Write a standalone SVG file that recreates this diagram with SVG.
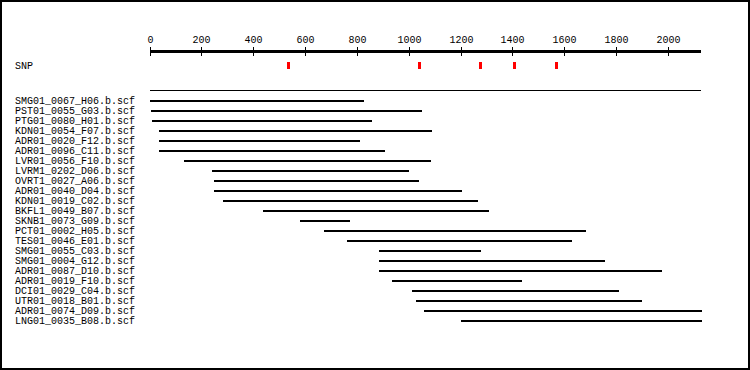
<svg xmlns="http://www.w3.org/2000/svg" width="750" height="370" viewBox="0 0 750 370">
<style>
text{font-family:"Liberation Mono","DejaVu Sans Mono",monospace;font-size:10px;fill:#000}
.tl{text-anchor:middle}
.bar{fill:#000}
.snp{fill:#f00}
</style>
<rect x="1" y="1" width="748" height="368" fill="#fff" stroke="#000" stroke-width="2"/>
<g id="axis">
<rect x="150" y="50" width="551" height="3" fill="#000"/>
<g fill="#000">
<rect x="150" y="47" width="1" height="9"/><rect x="201" y="47" width="1" height="9"/><rect x="253" y="47" width="1" height="9"/><rect x="305" y="47" width="1" height="9"/><rect x="357" y="47" width="1" height="9"/><rect x="409" y="47" width="1" height="9"/><rect x="461" y="47" width="1" height="9"/><rect x="512" y="47" width="1" height="9"/><rect x="564" y="47" width="1" height="9"/><rect x="616" y="47" width="1" height="9"/><rect x="668" y="47" width="1" height="9"/>
</g>
<text class="tl" x="150.5" y="43">0</text>
<text class="tl" x="201.5" y="43">200</text>
<text class="tl" x="253.5" y="43">400</text>
<text class="tl" x="305.5" y="43">600</text>
<text class="tl" x="357.5" y="43">800</text>
<text class="tl" x="409.5" y="43">1000</text>
<text class="tl" x="461.5" y="43">1200</text>
<text class="tl" x="512.5" y="43">1400</text>
<text class="tl" x="564.5" y="43">1600</text>
<text class="tl" x="616.5" y="43">1800</text>
<text class="tl" x="668.5" y="43">2000</text>
</g>
<g id="snp">
<text x="15" y="69">SNP</text>
<rect class="snp" x="287" y="62" width="3" height="7"/>
<rect class="snp" x="418" y="62" width="3" height="7"/>
<rect class="snp" x="479" y="62" width="3" height="7"/>
<rect class="snp" x="513" y="62" width="3" height="7"/>
<rect class="snp" x="555" y="62" width="3" height="7"/>
</g>
<rect id="reference" x="150" y="90" width="551" height="1" fill="#000"/>
<g id="reads">
<g id="r1"><text x="15" y="104">SMG01_0067_H06.b.scf</text><rect class="bar" x="150" y="100" width="214" height="2"/></g>
<g id="r2"><text x="15" y="114">PST01_0055_G03.b.scf</text><rect class="bar" x="151" y="110" width="271" height="2"/></g>
<g id="r3"><text x="15" y="124">PTG01_0080_H01.b.scf</text><rect class="bar" x="152" y="120" width="220" height="2"/></g>
<g id="r4"><text x="15" y="134">KDN01_0054_F07.b.scf</text><rect class="bar" x="159" y="130" width="273" height="2"/></g>
<g id="r5"><text x="15" y="144">ADR01_0020_F12.b.scf</text><rect class="bar" x="159" y="140" width="201" height="2"/></g>
<g id="r6"><text x="15" y="154">ADR01_0096_C11.b.scf</text><rect class="bar" x="159" y="150" width="226" height="2"/></g>
<g id="r7"><text x="15" y="164">LVR01_0056_F10.b.scf</text><rect class="bar" x="184" y="160" width="247" height="2"/></g>
<g id="r8"><text x="15" y="174">LVRM1_0202_D06.b.scf</text><rect class="bar" x="212" y="170" width="197" height="2"/></g>
<g id="r9"><text x="15" y="184">OVRT1_0027_A06.b.scf</text><rect class="bar" x="214" y="180" width="205" height="2"/></g>
<g id="r10"><text x="15" y="194">ADR01_0040_D04.b.scf</text><rect class="bar" x="214" y="190" width="248" height="2"/></g>
<g id="r11"><text x="15" y="204">KDN01_0019_C02.b.scf</text><rect class="bar" x="223" y="200" width="255" height="2"/></g>
<g id="r12"><text x="15" y="214">BKFL1_0049_B07.b.scf</text><rect class="bar" x="263" y="210" width="226" height="2"/></g>
<g id="r13"><text x="15" y="224">SKNB1_0073_G09.b.scf</text><rect class="bar" x="300" y="220" width="50" height="2"/></g>
<g id="r14"><text x="15" y="234">PCT01_0002_H05.b.scf</text><rect class="bar" x="324" y="230" width="262" height="2"/></g>
<g id="r15"><text x="15" y="244">TES01_0046_E01.b.scf</text><rect class="bar" x="347" y="240" width="225" height="2"/></g>
<g id="r16"><text x="15" y="254">SMG01_0055_C03.b.scf</text><rect class="bar" x="379" y="250" width="102" height="2"/></g>
<g id="r17"><text x="15" y="264">SMG01_0004_G12.b.scf</text><rect class="bar" x="379" y="260" width="226" height="2"/></g>
<g id="r18"><text x="15" y="274">ADR01_0087_D10.b.scf</text><rect class="bar" x="379" y="270" width="283" height="2"/></g>
<g id="r19"><text x="15" y="284">ADR01_0019_F10.b.scf</text><rect class="bar" x="392" y="280" width="130" height="2"/></g>
<g id="r20"><text x="15" y="294">DCI01_0029_C04.b.scf</text><rect class="bar" x="412" y="290" width="207" height="2"/></g>
<g id="r21"><text x="15" y="304">UTR01_0018_B01.b.scf</text><rect class="bar" x="416" y="300" width="226" height="2"/></g>
<g id="r22"><text x="15" y="314">ADR01_0074_D09.b.scf</text><rect class="bar" x="424" y="310" width="278" height="2"/></g>
<g id="r23"><text x="15" y="324">LNG01_0035_B08.b.scf</text><rect class="bar" x="461" y="320" width="241" height="2"/></g>
</g>
</svg>
